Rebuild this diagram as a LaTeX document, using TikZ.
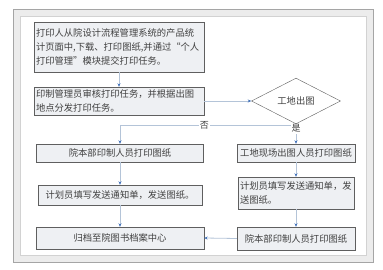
\documentclass[tikz,border=0pt]{standalone}
\usepackage{fontspec}
\newfontfamily\cjk{Noto Sans CJK SC}
\usetikzlibrary{positioning, shapes.geometric, arrows.meta}
\definecolor{boxfill}{RGB}{238,240,243}
\definecolor{boxline}{RGB}{95,95,95}
\definecolor{linkline}{RGB}{180,196,216}
\definecolor{tipblue}{RGB}{66,114,186}
\definecolor{frameline}{RGB}{165,165,165}
\definecolor{framefill}{RGB}{236,236,236}

\begin{document}
\begin{tikzpicture}[x=1pt, y=-1pt,
  stepbox/.style={draw=boxline, fill=boxfill, inner sep=2pt, text=black!75,
    font=\cjk\fontsize{9.3}{14}\selectfont, align=center},
  choice/.style={diamond, draw=boxline, fill=white, inner sep=0pt, text=black!75,
    font=\cjk\fontsize{9.3}{14}\selectfont, minimum width=89pt, minimum height=26pt},
  link/.style={draw=linkline, line width=0.8pt, -{Stealth[length=3.5pt, width=3pt, color=tipblue]}},
  tag/.style={fill=white, inner sep=1pt, text=black!75, font=\cjk\fontsize{9}{10}\selectfont}]
\useasboundingbox (0,0) rectangle (383,270);
% frame
\draw[fill=framefill, draw=frameline] (13,9) rectangle (373,262);
\draw[fill=white, draw=frameline!50] (20,16) rectangle (366,255);

% left column
\node[stepbox, text width=166pt, minimum height=50pt, align=left] (submit) at (119,47)
  {打印人从院设计流程管理系统的产品统\\计页面中,下载、打印图纸,并通过“个人\\打印管理”模块提交打印任务。};
\node[stepbox, text width=166pt, minimum height=28pt, align=left] (review) at (119,101)
  {印制管理员审核打印任务，并根据出图\\地点分发打印任务。};
\node[stepbox, minimum width=167pt, minimum height=18pt] (hqprint) at (120,153) {院本部印制人员打印图纸};
\node[stepbox, minimum width=164pt, minimum height=20pt] (hqsend) at (120,195) {计划员填写发送通知单，发送图纸。};
\node[stepbox, minimum width=168pt, minimum height=22pt] (archive) at (120,238) {归档至院图书档案中心};

% right column
\node[choice] (site) at (296,101) {工地出图};
\node[stepbox, minimum width=118pt, minimum height=18pt] (siteprint) at (296,153) {工地现场出图人员打印图纸};
\node[stepbox, text width=112pt, minimum height=32pt, align=left] (sitesend) at (296,193)
  {计划员填写发送通知单，发\\送图纸。};
\node[stepbox, minimum width=118pt, minimum height=23pt] (siteback) at (296,238.5) {院本部印制人员打印图纸};
\coordinate (split) at (296,125);

% connectors
\draw[link] (submit.south) -- (review.north);
\draw[link] (review.east) -- (site.west);
\draw[draw=linkline, line width=0.8pt] (site.south) -- (split);
\draw[link] (split) -| node[tag, pos=0.26] {否} (hqprint.north);
\draw[link] (split) -- node[tag, pos=0.2] {是} (siteprint.north);
\draw[link] (hqprint.south) -- (hqsend.north);
\draw[link] (hqsend.south) -- (archive.north);
\draw[link] (siteprint.south) -- (sitesend.north);
\draw[link] (sitesend.south) -- (siteback.north);
\draw[link] (siteback.west) -- (archive.east);
\end{tikzpicture}
\end{document}
